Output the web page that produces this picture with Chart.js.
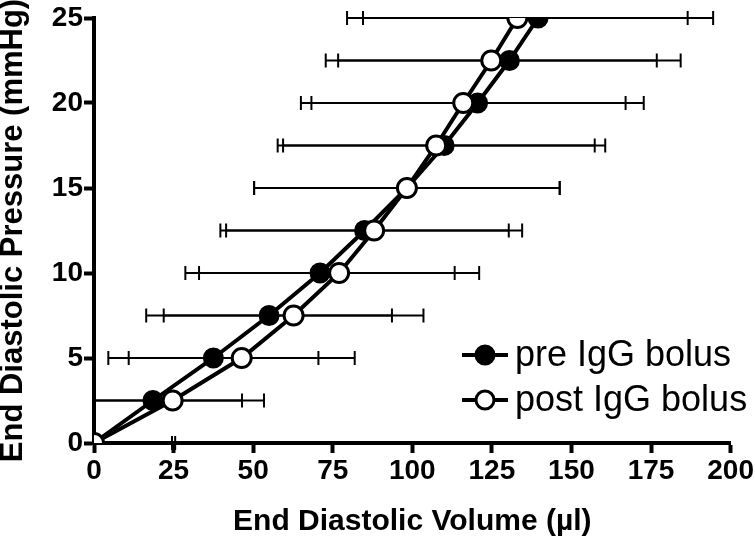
<!DOCTYPE html>
<html>
<head>
<meta charset="utf-8">
<script src="https://cdn.jsdelivr.net/npm/chart.js@4.4.1/dist/chart.umd.min.js"></script>
<style>
  html, body { margin: 0; padding: 0; background: #fff; }
  #wrap { width: 755px; height: 546px; position: relative; }
</style>
</head>
<body>
<div id="wrap"><canvas id="c" width="755" height="546"></canvas></div>
<script>
// ---- data ----
const pressures  = [0, 2.5, 5, 7.5, 10, 12.5, 15, 17.5, 20, 22.5, 25];          // mmHg (y)
const preVolume  = [0, 18.5, 37.5, 55, 71, 85, 98.3, 110, 120.5, 130.5, 139.5];  // µl (x)
const postVolume = [0, 24.7, 46.4, 62.7, 77, 88, 98.3, 107.5, 116, 124.8, 133];  // µl (x)
const preSD      = [24.5, 28, 33, 38.6, 42.3, 45.3, 48, 50.6, 52.2, 53.8, 55];
const postSD     = [25.5, 28.7, 35.5, 40.8, 44, 46.5, 48, 49.8, 51, 52, 53.5];
const seriesNames = ['pre IgG bolus', 'post IgG bolus'];
const xTicks = [0, 25, 50, 75, 100, 125, 150, 175, 200];
const yTicks = [0, 5, 10, 15, 20, 25];

const FONT = "'Liberation Sans', Arial, Helvetica, sans-serif";

function pts(xs) { return xs.map((x, i) => ({ x: x, y: pressures[i] })); }

const errorBars = {
  id: 'errorBars',
  beforeDatasetsDraw(chart) {
    const ctx = chart.ctx, xs = chart.scales.x, ys = chart.scales.y, a = chart.chartArea;
    ctx.save();
    ctx.beginPath();
    ctx.rect(a.left, 0, a.right - a.left + 20, chart.height);
    ctx.clip();
    ctx.strokeStyle = '#000';
    ctx.lineWidth = 2;
    const sets = [[preVolume, preSD], [postVolume, postSD]];
    sets.forEach(([vals, sds]) => {
      vals.forEach((v, i) => {
        const y = ys.getPixelForValue(pressures[i]);
        const x1 = xs.getPixelForValue(v - sds[i]);
        const x2 = xs.getPixelForValue(v + sds[i]);
        ctx.beginPath();
        ctx.moveTo(x1, y); ctx.lineTo(x2, y);
        ctx.moveTo(x1, y - 7); ctx.lineTo(x1, y + 7);
        ctx.moveTo(x2, y - 7); ctx.lineTo(x2, y + 7);
        ctx.stroke();
      });
    });
    ctx.restore();
  }
};

const insideLegend = {
  id: 'insideLegend',
  afterDraw(chart) {
    const ctx = chart.ctx;
    const rows = [355, 400];
    ctx.save();
    chart.data.datasets.forEach((ds) => {
      const idx = seriesNames.indexOf(ds.label);
      const y = rows[idx];
      ctx.strokeStyle = '#000';
      ctx.lineWidth = 4;
      ctx.beginPath(); ctx.moveTo(462, y); ctx.lineTo(508, y); ctx.stroke();
      ctx.beginPath(); ctx.arc(485, y, 9, 0, Math.PI * 2);
      ctx.fillStyle = ds.pointBackgroundColor; ctx.fill();
      ctx.lineWidth = 3; ctx.stroke();
      ctx.fillStyle = '#000';
      ctx.font = "36px " + FONT;
      ctx.textBaseline = 'middle';
      ctx.textAlign = 'left';
      ctx.fillText(ds.label, 515, y + 1);
    });
    ctx.restore();
  }
};

new Chart(document.getElementById('c'), {
  type: 'line',
  data: {
    datasets: [
      {
        label: seriesNames[1], data: pts(postVolume), order: 1,
        borderColor: '#000', borderWidth: 4, pointRadius: 9.5, pointHoverRadius: 9.5,
        pointBackgroundColor: '#fff', pointBorderColor: '#000', pointBorderWidth: 3,
        fill: false, tension: 0
      },
      {
        label: seriesNames[0], data: pts(preVolume), order: 2,
        borderColor: '#000', borderWidth: 4, pointRadius: 9.5, pointHoverRadius: 9.5,
        pointBackgroundColor: '#000', pointBorderColor: '#000', pointBorderWidth: 2,
        fill: false, tension: 0
      }
    ]
  },
  options: {
    responsive: false,
    animation: false,
    devicePixelRatio: 1,
    layout: { padding: { top: 18, right: 24, left: 0, bottom: 0 } },
    plugins: { legend: { display: false }, tooltip: { enabled: false } },
    scales: {
      x: {
        type: 'linear', min: 0, max: 200,
        afterBuildTicks(s) { s.ticks = xTicks.map(v => ({ value: v })); },
        afterFit(s) { s.height = 103; },
        border: { display: true, width: 4, color: '#000' },
        grid: { drawOnChartArea: false, drawTicks: true, tickLength: 10, tickWidth: 4, tickColor: '#000' },
        ticks: { color: '#000', padding: 1, maxRotation: 0, font: { family: FONT, size: 28, weight: 'bold' } },
        title: { display: true, text: 'End Diastolic Volume (\u00b5l)', color: '#000',
                 padding: { top: 0, bottom: 6 }, font: { family: FONT, size: 30, weight: 'bold' } }
      },
      y: {
        type: 'linear', min: 0, max: 25,
        afterBuildTicks(s) { s.ticks = yTicks.map(v => ({ value: v })); },
        afterFit(s) { s.width = 94; },
        border: { display: true, width: 4, color: '#000' },
        grid: { drawOnChartArea: false, drawTicks: true, tickLength: 10, tickWidth: 4, tickColor: '#000' },
        ticks: { color: '#000', padding: 1, font: { family: FONT, size: 28, weight: 'bold' } },
        title: { display: true, text: 'End Diastolic Pressure (mmHg)', color: '#000',
                 padding: { top: 0, bottom: 0 }, font: { family: FONT, size: 31, weight: 'bold', lineHeight: 0.9 } }
      }
    }
  },
  plugins: [errorBars, insideLegend]
});
</script>
</body>
</html>
